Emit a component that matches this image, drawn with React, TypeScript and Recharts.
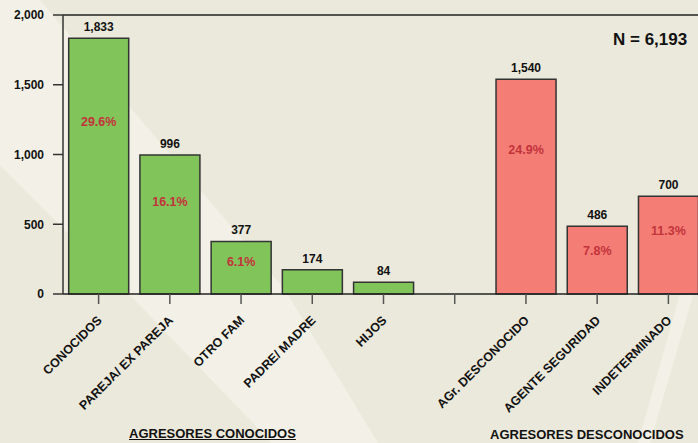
import React from "react";
import {
  BarChart,
  Bar,
  Cell,
  XAxis,
  YAxis,
  LabelList,
  ReferenceLine,
} from "recharts";

const categories = [
  "CONOCIDOS",
  "PAREJA/ EX PAREJA",
  "OTRO FAM",
  "PADRE/ MADRE",
  "HIJOS",
  "",
  "AGr. DESCONOCIDO",
  "AGENTE SEGURIDAD",
  "INDETERMINADO",
];
const counts = [1833, 996, 377, 174, 84, null, 1540, 486, 700];
const shares = ["29.6%", "16.1%", "6.1%", null, null, null, "24.9%", "7.8%", "11.3%"];
const groups = ["known", "known", "known", "known", "known", "", "unknown", "unknown", "unknown"];
const yTicks = [0, 500, 1000, 1500, 2000];

const data = categories.map((name, i) => ({
  name,
  value: counts[i],
  pct: shares[i],
  group: groups[i],
}));

const FONT = "'Liberation Sans', Arial, sans-serif";
const GREEN = "#80C45A";
const RED = "#F47E76";

function fmt(v: number): string {
  return v.toLocaleString("en-US");
}

function CategoryTick(props: any) {
  const { x, y, payload } = props;
  return (
    <g transform={`translate(${x + 4},${y + 15})`}>
      <text
        textAnchor="end"
        transform="rotate(-45)"
        fontSize={12.5}
        fontWeight="bold"
        fontFamily={FONT}
        fill="#111"
      >
        {payload.value}
      </text>
    </g>
  );
}

function ValueLabel(props: any) {
  const { x, y, width, value } = props;
  if (value == null) return null;
  return (
    <text
      x={x + width / 2}
      y={y - 7}
      textAnchor="middle"
      fontSize={12}
      fontWeight="bold"
      fontFamily={FONT}
      fill="#111"
    >
      {fmt(Number(value))}
    </text>
  );
}

function PctLabel(props: any) {
  const { x, y, width, height, value } = props;
  if (value == null) return null;
  return (
    <text
      x={x + width / 2}
      y={y + 8 + height * 0.31}
      textAnchor="middle"
      fontSize={12.5}
      fontWeight="bold"
      fontFamily={FONT}
      fill="#C3333B"
    >
      {value}
    </text>
  );
}

export default function App() {
  return (
    <div
      style={{
        position: "absolute",
        left: 0,
        top: 0,
        width: 698,
        height: 443,
        overflow: "hidden",
        background: "#EBE9DB",
        fontFamily: FONT,
      }}
    >
      <svg width={698} height={443} style={{ position: "absolute", left: 0, top: 0 }}>
        <polygon
          points="0,0 40,0 130,107 285,290 378,443 272,443 130,295 0,165"
          fill="#F3F1E7"
        />
        <polygon points="701,220 715,220 650,443 638,443" fill="#F3F1E7" />
      </svg>
      <div style={{ position: "absolute", left: 0, top: 0 }}>
        <BarChart
          width={720}
          height={443}
          data={data}
          margin={{ top: 15, right: 16, bottom: 0, left: 0 }}
          barCategoryGap="8%"
        >
          <XAxis
            dataKey="name"
            interval={0}
            height={149}
            tickSize={10}
            tick={<CategoryTick />}
            axisLine={{ stroke: "#222", strokeWidth: 1.5 }}
            tickLine={{ stroke: "#555", strokeWidth: 1.5 }}
          />
          <YAxis
            width={63}
            domain={[0, 2000]}
            ticks={yTicks}
            tickFormatter={fmt}
            tickSize={10}
            tickMargin={9}
            axisLine={{ stroke: "#333", strokeWidth: 1.5 }}
            tickLine={{ stroke: "#333", strokeWidth: 1.5 }}
            tick={{ fontSize: 12, fontWeight: "bold", fill: "#111", fontFamily: FONT }}
          />
          <ReferenceLine y={2000} stroke="#222" strokeWidth={1.5} />
          <Bar dataKey="value" isAnimationActive={false} stroke="#333" strokeWidth={1.5}>
            {data.map((d, i) => (
              <Cell key={i} fill={d.group === "unknown" ? RED : GREEN} />
            ))}
            <LabelList dataKey="value" content={<ValueLabel />} />
            <LabelList dataKey="pct" content={<PctLabel />} />
          </Bar>
        </BarChart>
      </div>
      <div
        style={{
          position: "absolute",
          left: 613,
          top: 30,
          fontSize: 17,
          fontWeight: "bold",
          color: "#111",
          lineHeight: "20px",
          whiteSpace: "nowrap",
        }}
      >
        N = 6,193
      </div>
      <div
        style={{
          position: "absolute",
          left: 129,
          top: 426,
          fontSize: 13,
          fontWeight: "bold",
          color: "#111",
          textDecoration: "underline",
          lineHeight: "16px",
          whiteSpace: "nowrap",
        }}
      >
        AGRESORES CONOCIDOS
      </div>
      <div
        style={{
          position: "absolute",
          left: 490,
          top: 427,
          fontSize: 13,
          fontWeight: "bold",
          color: "#111",
          lineHeight: "16px",
          whiteSpace: "nowrap",
        }}
      >
        AGRESORES DESCONOCIDOS
      </div>
    </div>
  );
}
